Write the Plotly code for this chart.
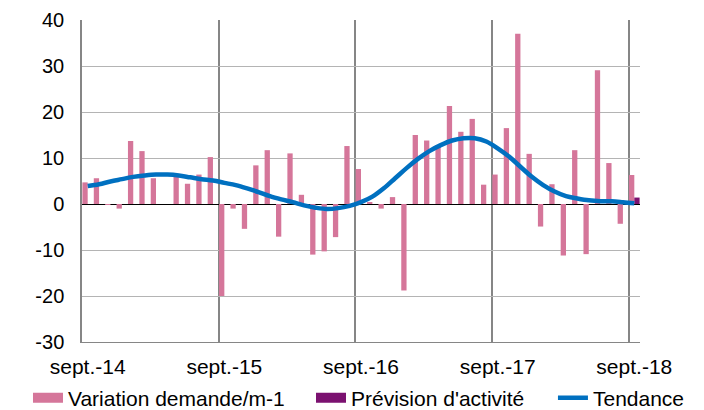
import plotly.graph_objects as go

month_index = list(range(49))  # sept-14 .. sept-18
tick_positions = [0, 12, 24, 36, 48]
tick_labels = ["sept.-14", "sept.-15", "sept.-16", "sept.-17", "sept.-18"]
year_boundaries = [11.5, 23.5, 35.5, 47.5]
y_tick_values = [-30, -20, -10, 0, 10, 20, 30, 40]
y_tick_labels = ["-30", "-20", "-10", "0", "10", "20", "30", "40"]

variation = [4.7, 5.6, -0.2, -1.0, 13.7, 11.5, 5.6, 0.0, 6.2, 4.4, 6.4, 10.2,
             -20.0, -1.0, -5.4, 8.4, 11.7, -7.1, 11.0, 2.0, -11.0, -10.3, -7.2, 12.6,
             7.6, 0.4, -1.0, 1.5, -18.8, 15.0, 13.8, 12.8, 21.3, 15.7, 18.5, 4.2,
             6.4, 16.5, 37.0, 10.9, -4.9, 4.3, -11.2, 11.7, -10.9, 29.1, 8.9, -4.3,
             6.3]

prevision = [None] * 48 + [1.4]

tendance = [3.9, 4.3, 4.9, 5.4, 5.9, 6.2, 6.4, 6.4, 6.2, 5.8, 5.4, 5.1,
            4.6, 4.1, 3.4, 2.6, 1.7, 1.0, 0.4, -0.3, -0.8, -1.1, -0.9, -0.4,
            0.4, 1.6, 3.4, 5.6, 7.8, 9.8, 11.5, 12.8, 13.8, 14.3, 14.3, 13.6,
            12.1, 10.3, 8.1, 5.9, 4.1, 2.7, 1.7, 1.2, 0.8, 0.6, 0.6, 0.4,
            0.15]

PINK = "#d5769a"
PURPLE = "#7b1170"
BLUE = "#0070c0"

fig = go.Figure()
fig.add_trace(go.Bar(x=month_index, y=variation, name="Variation demande/m-1",
                     marker=dict(color=PINK, line=dict(width=0)), showlegend=False))
fig.add_trace(go.Bar(x=month_index, y=prevision, name="Prévision d'activité",
                     marker=dict(color=PURPLE, line=dict(width=0)), showlegend=False))
fig.add_trace(go.Scatter(x=month_index, y=tendance, name="Tendance", mode="lines",
                         line=dict(color=BLUE, width=4.5, shape="spline"),
                         legend="legend3"))

# legend proxies (wide rectangular swatches like the original)
fig.add_trace(go.Scatter(x=[None], y=[None], name="Variation demande/m-1", mode="lines",
                         line=dict(color=PINK, width=11), legend="legend"))
fig.add_trace(go.Scatter(x=[None], y=[None], name="Prévision d'activité", mode="lines",
                         line=dict(color=PURPLE, width=11), legend="legend2"))

font = dict(family="Liberation Sans, Arial, sans-serif", size=21, color="#000000")
yfont = dict(family="Liberation Sans, Arial, sans-serif", size=20, color="#000000")

def leg(xpos):
    return dict(orientation="h", x=xpos, xanchor="left", y=-0.174, yanchor="middle",
                font=font, bgcolor="rgba(0,0,0,0)", borderwidth=0)

fig.update_layout(
    width=704, height=410,
    margin=dict(l=82, r=64, t=20, b=68, autoexpand=False),
    paper_bgcolor="white", plot_bgcolor="white",
    font=font,
    barmode="group", bargap=0.07, bargroupgap=0,
    showlegend=True,
    legend=leg(-0.0968),
    legend2=leg(0.4104),
    legend3=leg(0.844),
    xaxis=dict(range=[-0.5, 48.5], tickmode="array", tickvals=tick_positions,
               ticktext=tick_labels, showgrid=False, zeroline=False,
               showline=True, linecolor="#868686", linewidth=1, ticks="",
               automargin=False, ticklabelstandoff=6,
               minor=dict(tickmode="array", tickvals=year_boundaries, showgrid=True,
                          gridcolor="#868686", gridwidth=1.5, ticks=""),
               tickfont=font),
    yaxis=dict(range=[-30, 40], tickmode="array", tickvals=y_tick_values,
               ticktext=y_tick_labels,
               showgrid=True, gridcolor="#b4b4b4", gridwidth=1,
               zeroline=True, zerolinecolor="#000000", zerolinewidth=1,
               showline=True, linecolor="#868686", linewidth=1.5,
               automargin=False,
               ticks="", ticklabelstandoff=12, tickfont=yfont),
)

fig.write_html("out.html",
               config={"displayModeBar": False},
               post_script="document.body.style.margin='0px';document.body.style.overflow='hidden';")
